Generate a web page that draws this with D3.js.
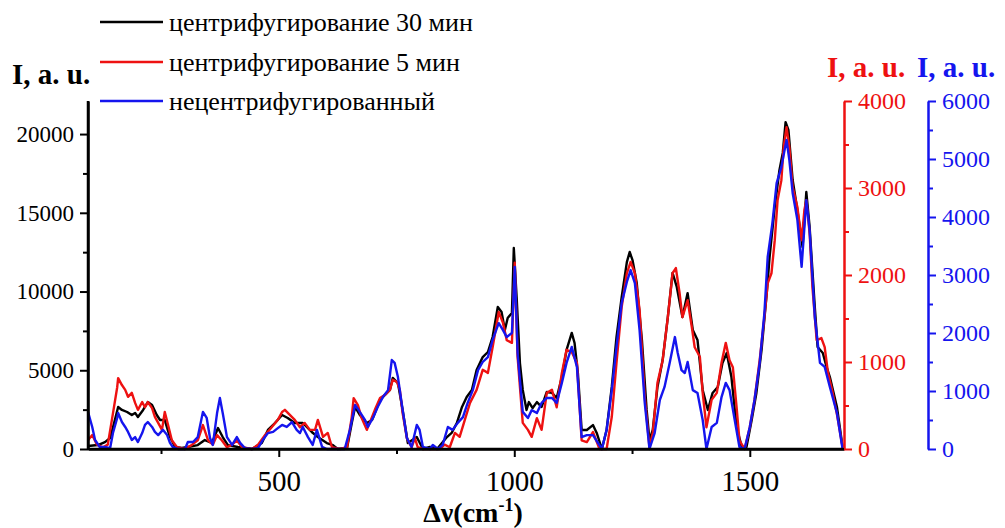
<!DOCTYPE html>
<html>
<head>
<meta charset="utf-8">
<script src="https://cdn.jsdelivr.net/npm/d3@7/dist/d3.min.js"></script>
<style>
  body { margin: 0; background: #fff; }
  svg, svg text { font-family: "Liberation Serif", "DejaVu Serif", "Times New Roman", serif; }
</style>
</head>
<body>
<div id="chart"></div>
<script>
// Raman spectra, three samples (wavenumber cm-1, intensity a.u.)
// black uses the left axis, red the first right axis, blue the second right axis
const seriesNames = ["центрифугирование 30 мин", "центрифугирование 5 мин", "нецентрифугированный"];
const seriesColors = ["#000000", "#ee1111", "#1515ee"];

const black30 = [
  [95,190],[116,250],[131,440],[142,700],[152,1840],[159,2670],[167,2480],[178,2350],[188,2160],[195,2290],
  [201,2030],[212,2480],[222,2980],[231,2790],[241,2160],[248,1840],[258,1840],[269,760],[280,130],[294,60],
  [307,130],[328,250],[343,570],[358,380],[371,1330],[381,760],[392,250],[413,130],[443,0],[464,380],
  [477,1210],[492,1650],[507,2160],[519,1970],[534,1650],[551,1650],[570,1080],[583,760],[602,380],[615,250],
  [625,0],[645,60],[655,1650],[662,2670],[672,2160],[687,1650],[698,1840],[715,3110],[736,3750],[742,4510],
  [753,4190],[763,2480],[774,380],[793,760],[806,0],[821,130],[836,0],[857,760],[867,1020],[878,1650],
  [889,2670],[899,3300],[910,3750],[920,5020],[933,5840],[944,6160],[954,7110],[965,9020],[973,8700],[980,7560],
  [986,8320],[995,8640],[999,12760],[1005,9650],[1012,5460],[1018,3750],[1026,2480],[1031,2980],[1039,2600],[1048,2980],
  [1058,2670],[1069,3620],[1080,3560],[1090,3240],[1101,4570],[1111,6290],[1122,7370],[1128,6730],[1135,4830],[1143,1210],
  [1154,1210],[1167,1520],[1175,1020],[1186,0],[1196,1210],[1207,3940],[1217,7110],[1228,9650],[1239,11870],[1245,12510],
  [1251,12000],[1260,10540],[1271,6920],[1281,2480],[1287,570],[1294,1210],[1304,3940],[1315,5650],[1326,8380],[1336,11180],
  [1345,10290],[1357,8380],[1368,9900],[1379,7560],[1389,6920],[1400,3750],[1411,2480],[1421,3560],[1432,3940],[1442,5460],
  [1451,6100],[1461,4570],[1472,1400],[1483,130],[1493,130],[1504,1840],[1514,3560],[1525,6290],[1536,9900],[1542,12190],
  [1553,15370],[1563,17720],[1570,18800],[1576,20760],[1582,20260],[1591,17080],[1601,15180],[1612,12830],[1620,16320],[1627,14100],
  [1638,9020],[1644,6480],[1655,6100],[1663,5210],[1670,4570],[1685,2670],[1697,130]
];

const red5 = [
  [95,100],[104,160],[114,50],[127,20],[137,50],[148,410],[157,710],[159,815],[167,735],[174,680],
  [180,600],[188,645],[195,530],[201,450],[210,540],[216,480],[222,540],[231,470],[237,370],[244,300],
  [252,220],[258,425],[265,275],[273,100],[284,20],[301,0],[316,50],[328,100],[339,275],[350,100],
  [360,50],[369,160],[379,100],[390,20],[401,50],[411,100],[422,20],[443,0],[456,50],[471,160],
  [485,250],[498,335],[507,425],[513,450],[524,390],[534,335],[545,250],[555,300],[566,220],[577,220],
  [583,335],[594,140],[604,185],[613,20],[630,0],[645,20],[655,370],[659,585],[668,505],[676,355],
  [687,220],[693,300],[704,450],[715,585],[725,620],[736,680],[742,795],[751,770],[757,680],[763,410],
  [772,125],[782,20],[789,125],[795,20],[806,0],[842,0],[852,50],[863,20],[874,185],[884,140],
  [895,335],[906,530],[920,680],[933,910],[944,875],[954,1170],[967,1575],[976,1450],[984,1250],[995,1220],
  [1001,2140],[1007,1060],[1018,300],[1029,220],[1037,140],[1048,355],[1058,220],[1069,645],[1080,680],[1090,480],
  [1101,875],[1111,1140],[1122,1115],[1133,990],[1143,100],[1154,80],[1167,195],[1181,0],[1196,0],[1207,370],
  [1217,990],[1228,1630],[1239,2020],[1247,2150],[1256,2020],[1266,1600],[1277,600],[1287,20],[1294,185],[1304,760],
  [1315,1020],[1326,1515],[1336,2020],[1343,2080],[1351,1790],[1357,1515],[1368,1710],[1377,1400],[1383,1170],[1394,1060],
  [1400,645],[1408,250],[1419,565],[1430,645],[1440,990],[1449,1220],[1457,1020],[1464,940],[1472,480],[1478,100],
  [1489,0],[1500,250],[1510,565],[1521,1020],[1531,1515],[1538,1905],[1546,2020],[1553,2400],[1559,2860],[1567,3090],
  [1572,3470],[1578,3700],[1584,3470],[1591,3010],[1601,2780],[1610,2400],[1616,2750],[1620,2860],[1627,2480],[1633,1860],
  [1642,1250],[1652,1275],[1659,1170],[1666,875],[1676,645],[1686,370],[1697,20]
];

const blueRaw = [
  [95,640],[104,380],[110,155],[120,35],[131,35],[142,15],[148,275],[157,535],[159,620],[167,465],
  [174,380],[180,295],[188,155],[195,205],[201,120],[210,275],[216,415],[222,465],[231,380],[237,295],
  [244,240],[254,330],[263,240],[269,105],[275,35],[286,0],[301,0],[307,120],[318,120],[328,205],
  [339,640],[347,535],[354,190],[360,70],[369,620],[375,880],[381,620],[390,205],[401,70],[411,205],
  [418,105],[428,15],[443,0],[456,15],[466,155],[477,275],[488,295],[498,360],[507,415],[517,380],
  [528,465],[538,330],[545,275],[551,380],[562,205],[572,70],[581,330],[592,35],[602,0],[640,0],
  [651,330],[662,760],[672,640],[683,500],[689,380],[700,535],[710,725],[721,895],[732,1015],[740,1535],
  [746,1485],[753,1240],[763,670],[772,190],[782,35],[793,415],[799,330],[806,35],[821,0],[827,70],
  [838,0],[848,70],[859,380],[869,330],[880,450],[891,550],[901,795],[912,1015],[923,1360],[933,1500],
  [944,1585],[954,1880],[967,2170],[976,2050],[984,1930],[995,2000],[1001,3140],[1007,1655],[1018,640],[1029,535],
  [1037,670],[1048,620],[1058,795],[1069,880],[1080,880],[1090,795],[1101,1140],[1111,1485],[1122,1760],[1133,1415],
  [1143,205],[1154,240],[1167,240],[1186,0],[1196,330],[1207,1015],[1217,1760],[1228,2515],[1239,2880],[1247,3085],
  [1256,2860],[1266,2050],[1277,795],[1287,0],[1298,275],[1309,845],[1319,1070],[1330,1485],[1341,1930],[1347,1655],
  [1355,1360],[1362,1310],[1368,1500],[1379,1015],[1389,965],[1400,500],[1408,0],[1419,380],[1430,450],[1440,895],
  [1449,1140],[1457,1015],[1468,500],[1478,35],[1489,0],[1500,380],[1510,845],[1521,1485],[1531,2345],[1538,3310],
  [1548,3895],[1557,4585],[1567,4860],[1578,5330],[1584,4980],[1591,4415],[1601,3950],[1610,3140],[1620,4290],[1627,3775],
  [1638,2275],[1649,1485],[1659,1415],[1670,1070],[1685,620],[1697,0]
];

const xTicks = [500, 1000, 1500];
const xMinor = [250, 750, 1250];
const leftTicks = [0, 5000, 10000, 15000, 20000];
const leftMinor = [2500, 7500, 12500, 17500];
const redTicks = [0, 1000, 2000, 3000, 4000];
const redMinor = [500, 1500, 2500, 3500];
const blueTicks = [0, 1000, 2000, 3000, 4000, 5000, 6000];
const blueMinor = [500, 1500, 2500, 3500, 4500, 5500];

const width = 1005, height = 528;
const x0 = 88, x1 = 844, yBase = 449, yTop = 101;
const redAxisX = 844, blueAxisX = 928;
const serif = '"Liberation Serif", "DejaVu Serif", serif';

const svg = d3.select('#chart').append('svg')
    .attr('width', width)
    .attr('height', height)
    .attr('font-family', serif);

const x = d3.scaleLinear().domain([95, 1700]).range([x0, x1]);
const yLeft = d3.scaleLinear().domain([0, 22100]).range([yBase, yTop]);
const yRed = d3.scaleLinear().domain([0, 4000]).range([yBase, yTop]);
const yBlue = d3.scaleLinear().domain([0, 6000]).range([yBase, yTop]);

// curves
const series = [
    { data: black30, y: yLeft, color: seriesColors[0] },
    { data: red5, y: yRed, color: seriesColors[1] },
    { data: blueRaw, y: yBlue, color: seriesColors[2] }
];
series.forEach(s => {
    const line = d3.line().x(d => x(d[0])).y(d => s.y(d[1]));
    svg.append('path')
        .datum(s.data)
        .attr('fill', 'none')
        .attr('stroke', s.color)
        .attr('stroke-width', 2.4)
        .attr('stroke-linejoin', 'round')
        .attr('d', line);
});

function styleAxis(g, color, fontSize) {
    g.attr('font-family', serif).attr('font-size', fontSize);
    g.select('.domain').attr('stroke', color).attr('stroke-width', 2.5);
    g.selectAll('.tick line').attr('stroke', color).attr('stroke-width', 2);
    g.selectAll('.tick text').attr('fill', color);
}

function minorTicks(g, color) {
    g.select('.domain').remove();
    g.selectAll('.tick line').attr('stroke', color).attr('stroke-width', 2);
}

// x axis
svg.append('g').attr('transform', `translate(0,${yBase})`)
    .call(d3.axisBottom(x).tickValues(xMinor).tickSize(5).tickFormat(''))
    .call(g => minorTicks(g, '#000'));
const gx2 = svg.append('g').attr('transform', `translate(0,${yBase})`)
    .call(d3.axisBottom(x).tickValues(xTicks).tickSize(8).tickSizeOuter(0).tickPadding(13).tickFormat(d3.format('d')));
styleAxis(gx2, '#000', 29);

// left axis
svg.append('g').attr('transform', `translate(${x0},0)`)
    .call(d3.axisLeft(yLeft).tickValues(leftMinor).tickSize(5).tickFormat(''))
    .call(g => minorTicks(g, '#000'));
const gl2 = svg.append('g').attr('transform', `translate(${x0},0)`)
    .call(d3.axisLeft(yLeft).tickValues(leftTicks).tickSize(8).tickSizeOuter(0).tickPadding(6).tickFormat(d3.format('d')));
styleAxis(gl2, '#000', 23);

// red axis
svg.append('g').attr('transform', `translate(${redAxisX},0)`)
    .call(d3.axisRight(yRed).tickValues(redMinor).tickSize(5).tickFormat(''))
    .call(g => minorTicks(g, seriesColors[1]));
const gr2 = svg.append('g').attr('transform', `translate(${redAxisX},0)`)
    .call(d3.axisRight(yRed).tickValues(redTicks).tickSize(8).tickSizeOuter(0).tickPadding(6).tickFormat(d3.format('d')));
styleAxis(gr2, seriesColors[1], 24);

// blue axis
svg.append('g').attr('transform', `translate(${blueAxisX},0)`)
    .call(d3.axisRight(yBlue).tickValues(blueMinor).tickSize(5).tickFormat(''))
    .call(g => minorTicks(g, seriesColors[2]));
const gb2 = svg.append('g').attr('transform', `translate(${blueAxisX},0)`)
    .call(d3.axisRight(yBlue).tickValues(blueTicks).tickSize(8).tickSizeOuter(0).tickPadding(6).tickFormat(d3.format('d')));
styleAxis(gb2, seriesColors[2], 24);

// x axis baseline and left axis line on top
svg.append('line').attr('x1', x0).attr('x2', x1).attr('y1', yBase).attr('y2', yBase)
    .attr('stroke', '#000').attr('stroke-width', 2.5);
svg.append('line').attr('x1', x0).attr('x2', x0).attr('y1', yBase + 1).attr('y2', yTop)
    .attr('stroke', '#000').attr('stroke-width', 2.5);

// axis titles
const titles = [
    { x: 12, y: 84, color: '#000' },
    { x: 827, y: 77, color: seriesColors[1] },
    { x: 917, y: 77, color: seriesColors[2] }
];
titles.forEach(t => {
    svg.append('text').attr('x', t.x).attr('y', t.y)
        .attr('font-size', 29).attr('font-weight', 'bold').attr('fill', t.color)
        .text('I, a. u.');
});

const xTitle = svg.append('text').attr('x', 473).attr('y', 522)
    .attr('text-anchor', 'middle')
    .attr('font-size', 28).attr('font-weight', 'bold').attr('fill', '#000');
xTitle.append('tspan').text('Δν(cm');
xTitle.append('tspan').attr('dy', -11).attr('font-size', 18).text('-1');
xTitle.append('tspan').attr('dy', 11).text(')');

// legend
const legendY = [22, 62, 101];
seriesNames.forEach((name, i) => {
    svg.append('line')
        .attr('x1', 100).attr('x2', 163)
        .attr('y1', legendY[i]).attr('y2', legendY[i])
        .attr('stroke', seriesColors[i]).attr('stroke-width', 2.5);
    svg.append('text')
        .attr('x', 169).attr('y', legendY[i] + 9)
        .attr('font-size', 26).attr('fill', '#000')
        .text(name);
});
</script>
</body>
</html>
